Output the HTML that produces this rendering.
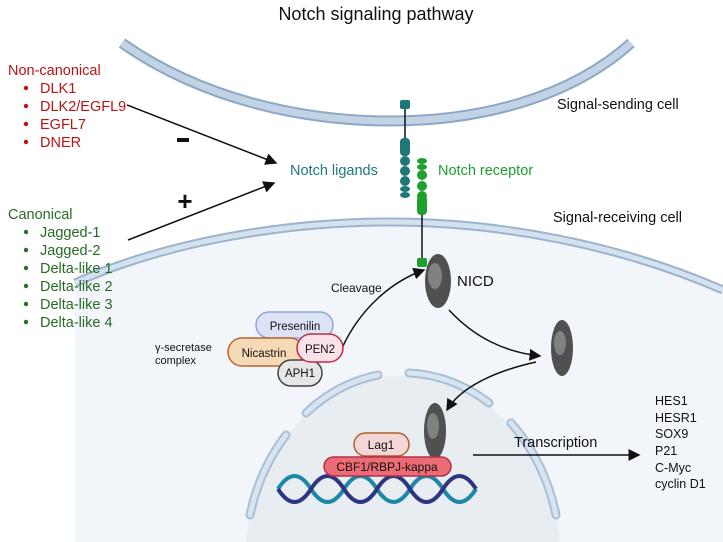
<!DOCTYPE html>
<html><head><meta charset="utf-8"><style>
html,body{margin:0;padding:0;background:#fff;width:723px;height:542px;overflow:hidden}
svg{display:block;overflow:hidden;font-family:"Liberation Sans",sans-serif}
</style></head><body>
<svg width="723" height="542" viewBox="0 0 723 542">
<defs><marker id="ah" markerWidth="8" markerHeight="8" refX="7" refY="4" orient="auto"><path d="M0,0 L8,4 L0,8 z" fill="#111"/></marker></defs>
<text x="376" y="20" text-anchor="middle" font-size="18" fill="#111">Notch signaling pathway</text>
<!-- receiving cell -->
<path d="M75,283 C170,240 290,222 390,222 C500,222 620,245 723,290 L723,542 L75,542 Z" fill="#f2f6fb"/>
<path d="M75,283 C170,240 290,222 390,222 C500,222 620,245 723,290" fill="none" stroke="#9db3cc" stroke-width="9"/>
<path d="M75,283 C170,240 290,222 390,222 C500,222 620,245 723,290" fill="none" stroke="#d4e1ee" stroke-width="5"/>
<!-- sending cell membrane -->
<path d="M122,43 C200,98 300,121 390,121 C480,121 570,98 631,43" fill="none" stroke="#8ea8c4" stroke-width="11"/>
<path d="M122,43 C200,98 300,121 390,121 C480,121 570,98 631,43" fill="none" stroke="#c2d3e6" stroke-width="7"/>
<!-- nucleus -->
<path d="M246,542 A158,187 0 0 1 560,542 Z" fill="#e8edf2"/>
<g fill="none" stroke-linecap="round">
<g stroke="#a9bfd5" stroke-width="9">
<path d="M250,515 A158,187 0 0 1 286,435"/><path d="M306,413 A158,187 0 0 1 378,375"/>
<path d="M409,373 A158,187 0 0 1 489,403"/><path d="M511,423 A158,187 0 0 1 556,515"/>
</g>
<g stroke="#d8e4f0" stroke-width="5">
<path d="M250,515 A158,187 0 0 1 286,435"/><path d="M306,413 A158,187 0 0 1 378,375"/>
<path d="M409,373 A158,187 0 0 1 489,403"/><path d="M511,423 A158,187 0 0 1 556,515"/>
</g>
</g>
<!-- ligand -->
<g fill="#1e7878">
<line x1="405" y1="104" x2="405" y2="145" stroke="#111" stroke-width="1.5"/>
<rect x="400" y="100" width="10" height="9" rx="2"/>
<rect x="400" y="138" width="10" height="18" rx="4"/>
<circle cx="405" cy="161" r="5"/><circle cx="405" cy="171" r="5"/><circle cx="405" cy="181" r="5"/>
<ellipse cx="405" cy="189" rx="5" ry="3"/><ellipse cx="405" cy="195" rx="5" ry="3"/>
</g>
<!-- receptor -->
<g fill="#1fa02e">
<line x1="422" y1="205" x2="422" y2="262" stroke="#111" stroke-width="1.5"/>
<ellipse cx="422" cy="161" rx="5" ry="3"/><ellipse cx="422" cy="167" rx="5" ry="3"/>
<circle cx="422" cy="175" r="5"/><circle cx="422" cy="186" r="5"/><circle cx="422" cy="196" r="5"/>
<rect x="417" y="196" width="10" height="19" rx="4"/>
<rect x="417" y="258" width="10" height="9" rx="2"/>
</g>
<!-- NICD -->
<g>
<ellipse cx="438" cy="281" rx="13" ry="27" fill="#4e514f"/><ellipse cx="435" cy="276" rx="7" ry="13" fill="#7e8380"/>
<ellipse cx="562" cy="348" rx="11" ry="28" fill="#4e514f"/><ellipse cx="560" cy="343" rx="6" ry="12" fill="#7e8380"/>
<ellipse cx="435" cy="431" rx="11" ry="28" fill="#4e514f"/><ellipse cx="433" cy="426" rx="6" ry="13" fill="#7e8380"/>
</g>
<text x="457" y="286" font-size="15" fill="#111">NICD</text>
<!-- arrows -->
<path d="M343,346 C360,310 390,282 424,270" fill="none" stroke="#111" stroke-width="1.5" marker-end="url(#ah)"/>
<text x="331" y="292" font-size="12" fill="#111">Cleavage</text>
<path d="M449,310 C475,338 505,352 540,356" fill="none" stroke="#111" stroke-width="1.5" marker-end="url(#ah)"/>
<path d="M536,362 C500,370 462,385 447,410" fill="none" stroke="#111" stroke-width="1.5" marker-end="url(#ah)"/>
<line x1="473" y1="455" x2="639" y2="455" stroke="#111" stroke-width="1.5" marker-end="url(#ah)"/>
<text x="514" y="447" font-size="14.5" fill="#111">Transcription</text>
<!-- targets -->
<g font-size="12.5" fill="#111">
<text x="655" y="405">HES1</text><text x="655" y="422">HESR1</text><text x="655" y="438">SOX9</text>
<text x="655" y="455">P21</text><text x="655" y="472">C-Myc</text><text x="655" y="488">cyclin D1</text>
</g>
<!-- left lists -->
<g font-size="14.5" fill="#b81414">
<text x="8" y="75">Non-canonical</text>
<g><circle cx="26" cy="88" r="2.2"/><circle cx="26" cy="106" r="2.2"/><circle cx="26" cy="124" r="2.2"/><circle cx="26" cy="142" r="2.2"/></g>
<text x="40" y="93">DLK1</text><text x="40" y="111">DLK2/EGFL9</text><text x="40" y="129">EGFL7</text><text x="40" y="147">DNER</text>
</g>
<g font-size="14.5" fill="#276b24">
<text x="8" y="219">Canonical</text>
<g><circle cx="26" cy="232" r="2.2"/><circle cx="26" cy="250" r="2.2"/><circle cx="26" cy="268" r="2.2"/><circle cx="26" cy="286" r="2.2"/><circle cx="26" cy="304" r="2.2"/><circle cx="26" cy="322" r="2.2"/></g>
<text x="40" y="237">Jagged-1</text><text x="40" y="255">Jagged-2</text><text x="40" y="273">Delta-like 1</text><text x="40" y="291">Delta-like 2</text><text x="40" y="309">Delta-like 3</text><text x="40" y="327">Delta-like 4</text>
</g>
<line x1="127" y1="105" x2="276" y2="163" stroke="#111" stroke-width="1.5" marker-end="url(#ah)"/>
<line x1="128" y1="240" x2="274" y2="183" stroke="#111" stroke-width="1.5" marker-end="url(#ah)"/>
<rect x="177" y="138" width="12" height="4" fill="#111"/>
<text x="185" y="210" font-size="26" font-weight="bold" text-anchor="middle" fill="#111">+</text>
<text x="290" y="175" font-size="14.5" fill="#1e7878">Notch ligands</text>
<text x="438" y="175" font-size="14.5" fill="#1fa02e">Notch receptor</text>
<text x="557" y="109" font-size="14.5" fill="#111">Signal-sending cell</text>
<text x="553" y="222" font-size="14.5" fill="#111">Signal-receiving cell</text>
<!-- secretase -->
<text x="155" y="351" font-size="11" fill="#111">γ-secretase</text>
<text x="155" y="364" font-size="11" fill="#111">complex</text>
<g font-size="11.5" text-anchor="middle" fill="#111">
<rect x="256" y="312" width="77" height="26" rx="13" fill="#dde2f6" stroke="#90a6d8" stroke-width="1.5"/><text x="295" y="330">Presenilin</text>
<rect x="228" y="338" width="76" height="28" rx="14" fill="#f6d9b6" stroke="#b8662c" stroke-width="1.5"/><text x="264" y="357">Nicastrin</text>
<rect x="278" y="360" width="44" height="26" rx="13" fill="#e6e6e6" stroke="#444" stroke-width="1.5"/><text x="300" y="377">APH1</text>
<rect x="297" y="334" width="46" height="28" rx="14" fill="#fbe2e8" stroke="#c02c48" stroke-width="1.5"/><text x="320" y="353">PEN2</text>
</g>
<!-- DNA -->
<g fill="none" stroke-width="4">
<path d="M278,489 q16.5,-26 33,0 t33,0 t33,0 t33,0 t33,0 t33,0" stroke="#1c87a6"/>
<path d="M278,489 q16.5,26 33,0 t33,0 t33,0 t33,0 t33,0 t33,0" stroke="#2e3580"/>
</g>
<rect x="354" y="433" width="55" height="23" rx="11.5" fill="#f5d6d6" stroke="#b0602c" stroke-width="1.5"/>
<text x="381" y="449" font-size="12" text-anchor="middle" fill="#111">Lag1</text>
<rect x="324" y="457" width="127" height="19" rx="9.5" fill="#ec6b74" stroke="#b0304a" stroke-width="1.5"/>
<text x="387" y="471" font-size="12" text-anchor="middle" fill="#111">CBF1/RBPJ-kappa</text>
</svg>
</body></html>
